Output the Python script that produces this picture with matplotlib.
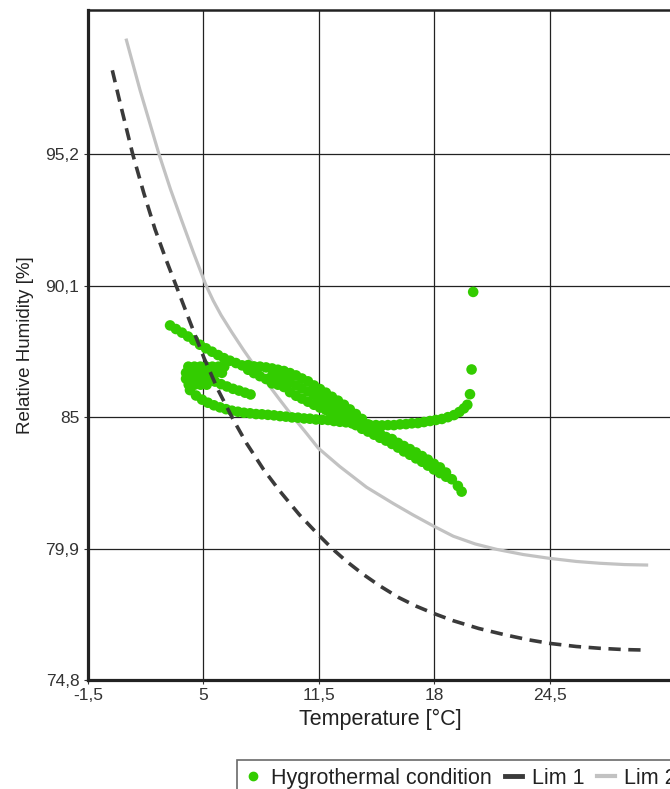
import matplotlib
matplotlib.use("Agg")
import matplotlib.pyplot as plt
from matplotlib.lines import Line2D

plt.rcParams['font.family'] = ['Liberation Sans', 'DejaVu Sans']

# ---------------- data ----------------
x_ticks = [-1.5, 5, 11.5, 18, 24.5]
x_tick_labels = ["-1,5", "5", "11,5", "18", "24,5"]
y_ticks = [74.8, 79.9, 85, 90.1, 95.2]
y_tick_labels = ["74,8", "79,9", "85", "90,1", "95,2"]

lim1_temp = [-0.12, 0.27, 1.03, 1.65, 2.28, 2.90, 3.50, 4.25, 5.04, 5.80, 6.69, 7.44,
             8.40, 9.32, 10.4, 11.5, 12.3, 13.07, 14.0, 14.94, 16.0, 17.0, 17.94,
             19.07, 20.5, 22.0, 23.3, 24.5, 26.0, 27.32, 28.7, 29.97]
lim1_rh = [98.46, 97.33, 95.20, 93.70, 92.30, 91.12, 90.05, 88.70, 87.30, 86.10, 84.90, 83.98,
           82.96, 82.12, 81.22, 80.42, 79.87, 79.40, 78.90, 78.45, 78.00, 77.66, 77.39,
           77.10, 76.80, 76.55, 76.36, 76.22, 76.10, 76.03, 75.98, 75.96]

lim2_temp = [0.65, 1.44, 2.51, 3.15, 3.78, 4.45, 5.15, 5.56, 6.00, 6.60, 7.25, 7.90, 8.60,
             9.32, 10.06, 10.8, 11.47, 12.69, 14.19, 15.69, 16.82, 17.94, 19.07, 20.3,
             21.51, 23.0, 24.5, 26.0, 27.32, 28.7, 30.04]
lim2_rh = [99.69, 97.69, 95.20, 93.85, 92.64, 91.38, 90.12, 89.52, 88.96, 88.30, 87.62, 86.98,
           86.32, 85.66, 85.00, 84.38, 83.80, 83.08, 82.28, 81.65, 81.20, 80.78, 80.38, 80.08,
           79.87, 79.67, 79.52, 79.40, 79.33, 79.28, 79.26]

# hygrothermal measurements (temperature, relative humidity)
band_temp = [3.13, 3.46, 3.80, 4.14, 4.48, 4.81, 5.15, 5.49, 5.83, 6.16, 6.50, 6.84, 7.18,
             7.52, 7.52, 7.85, 7.85, 8.19, 8.19, 8.53, 8.53, 8.87, 8.87, 8.87,
             9.20, 9.20, 9.20, 9.54, 9.54, 9.54, 9.88, 9.88, 9.88, 10.22, 10.22, 10.22,
             10.55, 10.55, 10.55, 10.89, 10.89, 10.89, 11.23, 11.23, 11.23, 11.57, 11.57, 11.57,
             11.90, 11.90, 11.90, 12.24, 12.24, 12.24, 12.58, 12.58, 12.58, 12.92, 12.92, 12.92,
             13.25, 13.25, 13.25, 13.59, 13.59, 13.59,
             13.93, 13.93, 14.27, 14.27, 14.61, 14.61, 14.94, 14.94, 15.28, 15.28, 15.62, 15.62,
             15.96, 15.96, 16.29, 16.29, 16.63, 16.63, 16.97, 16.97, 17.31, 17.31, 17.64, 17.64,
             17.98, 17.98, 18.32, 18.32, 18.66, 18.66, 18.99, 19.33, 19.54]
band_rh = [88.56, 88.42, 88.28, 88.13, 87.98, 87.81, 87.67, 87.54, 87.41, 87.29, 87.19, 87.10, 87.01,
           87.02, 86.84, 86.97, 86.71, 86.96, 86.59, 86.93, 86.48, 86.89, 86.61, 86.31,
           86.84, 86.56, 86.26, 86.79, 86.48, 86.17, 86.71, 86.35, 85.97, 86.62, 86.23, 85.83,
           86.50, 86.12, 85.72, 86.39, 86.00, 85.60, 86.23, 85.86, 85.48, 86.09, 85.73, 85.37,
           85.95, 85.61, 85.28, 85.79, 85.50, 85.20, 85.64, 85.33, 85.08, 85.48, 85.22, 84.97,
           85.30, 85.07, 84.84, 85.12, 84.91, 84.69,
           84.93, 84.55, 84.72, 84.44, 84.53, 84.32, 84.38, 84.20, 84.23, 84.09, 84.15, 83.96,
           84.00, 83.82, 83.88, 83.67, 83.76, 83.54, 83.63, 83.40, 83.49, 83.27, 83.35, 83.12,
           83.19, 82.97, 83.05, 82.83, 82.85, 82.69, 82.59, 82.33, 82.11]

loop_temp = [4.25, 4.59, 4.93, 5.26, 5.60, 5.94, 6.28, 6.61, 6.95, 7.29, 7.63, 7.97, 8.30,
             8.64, 8.98, 9.32, 9.65, 9.99, 10.33, 10.67, 11.00, 11.34, 11.68, 12.02, 12.35,
             12.69, 13.03, 13.37, 13.71, 14.04, 14.38, 14.72, 15.06, 15.39, 15.73, 16.07,
             16.41, 16.74, 17.08, 17.42, 17.76, 18.09, 18.43, 18.77, 19.11, 19.41, 19.67, 19.86,
             20.01, 20.10, 20.19]
loop_rh = [86.05, 85.84, 85.68, 85.56, 85.46, 85.38, 85.31, 85.25, 85.21, 85.17, 85.15, 85.12, 85.11,
           85.09, 85.07, 85.04, 85.02, 84.99, 84.98, 84.95, 84.94, 84.91, 84.90, 84.89, 84.85,
           84.82, 84.80, 84.76, 84.75, 84.72, 84.69, 84.69, 84.68, 84.69, 84.69, 84.72,
           84.73, 84.76, 84.77, 84.81, 84.85, 84.89, 84.93, 85.00, 85.08, 85.20, 85.34, 85.48,
           85.89, 86.85, 89.86]

cluster_temp = [4.16, 4.50, 4.83, 5.17, 5.51, 5.85, 6.18,
                4.03, 4.36, 4.70, 5.04, 5.38, 5.71, 6.05,
                4.03, 4.36, 4.70, 5.04, 5.38,
                4.18, 4.51, 4.85, 5.19,
                5.66, 6.00, 6.33, 6.67, 7.01, 7.35, 7.66]
cluster_rh = [86.96, 86.96, 86.96, 86.96, 86.96, 86.96, 86.96,
              86.72, 86.72, 86.72, 86.72, 86.72, 86.72, 86.72,
              86.49, 86.49, 86.49, 86.49, 86.49,
              86.26, 86.26, 86.26, 86.26,
              86.38, 86.28, 86.19, 86.10, 86.03, 85.95, 85.88]

hygro_temp = band_temp + loop_temp + cluster_temp
hygro_rh = band_rh + loop_rh + cluster_rh

# ---------------- figure ----------------
W, H = 670, 789
fig = plt.figure(figsize=(W / 100, H / 100), dpi=100)
ax_left, ax_bottom = 87.8 / W, (H - 680) / H
ax_w, ax_h = (672 - 87.8) / W, 670 / H
ax = fig.add_axes([ax_left, ax_bottom, ax_w, ax_h])

green = '#33cc00'
dark = '#3a3a3a'
grey = '#c2c2c2'

ax.plot(lim2_temp, lim2_rh, color=grey, lw=2.3, zorder=2, solid_capstyle='butt',
        solid_joinstyle='round')
ax.scatter(hygro_temp, hygro_rh, s=58, color=green, edgecolors='none', zorder=3)
ax.plot(lim1_temp, lim1_rh, color=dark, lw=2.6, dashes=(3.4, 2.1), zorder=4,
        dash_capstyle='butt', dash_joinstyle='round')

ax.set_xlim(-1.5, 31.38)
ax.set_ylim(74.8, 100.8)
ax.set_xticks(x_ticks)
ax.set_xticklabels(x_tick_labels)
ax.set_yticks(y_ticks)
ax.set_yticklabels(y_tick_labels)
ax.grid(True, color='#222222', lw=0.9)
ax.set_axisbelow(True)

ax.tick_params(axis='both', labelsize=12.5, colors='#333333', length=3, width=0.8)
ax.tick_params(axis='x', pad=3)
ax.tick_params(axis='y', pad=3)

for side in ['left', 'bottom']:
    ax.spines[side].set_linewidth(2.3)
    ax.spines[side].set_color('#222222')
ax.spines['top'].set_linewidth(1.8)
ax.spines['top'].set_color('#222222')
ax.spines['right'].set_visible(False)

ax.set_xlabel('Temperature [°C]', fontsize=15.5, color='#222222', labelpad=4)
ax.set_ylabel('Relative Humidity [%]', fontsize=13.5, color='#222222', labelpad=8)

handles = [
    Line2D([], [], marker='o', ls='none', color=green, markersize=6),
    Line2D([], [], color=dark, lw=3.5),
    Line2D([], [], color=grey, lw=3),
]
leg = fig.legend(handles, ['Hygrothermal condition', 'Lim 1', 'Lim 2'],
                 loc='upper left', bbox_to_anchor=(237 / W, 1 - 760 / H),
                 ncol=3, fontsize=15.5, frameon=True, fancybox=False,
                 handlelength=0.8, handletextpad=0.45, columnspacing=0.6,
                 borderpad=0.35, borderaxespad=0)
leg.get_frame().set_edgecolor('#444444')
leg.get_frame().set_linewidth(1.2)
for t in leg.get_texts():
    t.set_color('#222222')

fig.savefig('out.png', dpi=100)
